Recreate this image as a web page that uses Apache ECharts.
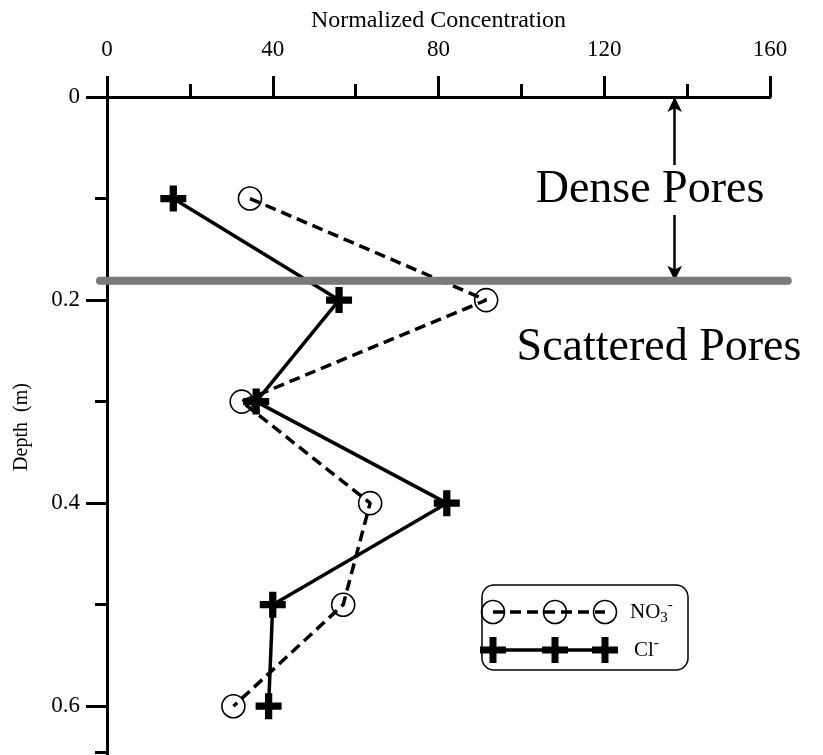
<!DOCTYPE html>
<html>
<head>
<meta charset="utf-8">
<script src="https://cdn.jsdelivr.net/npm/echarts@6/dist/echarts.min.js"></script>
<style>
  html, body { margin: 0; padding: 0; background: #fff; }
  #chart { width: 823px; height: 755px; }
</style>
</head>
<body>
<div id="chart"></div>
<script>
// Depth profile of nitrate and chloride
const depths = [0.1, 0.2, 0.3, 0.4, 0.5, 0.6];
const no3Values = [34.5, 91.5, 32.5, 63.5, 57, 30.5];
const clValues = [16, 56, 36, 82, 40, 39];
const xTickLabels = [0, 40, 80, 120, 160];
const yTickLabels = [0, 0.2, 0.4, 0.6];
const yMinorTicks = [0.1, 0.3, 0.5, 0.645];
const boundaryDepth = 0.181;   // dense / scattered pore boundary
const arrowConc = 137;         // x position of the "Dense Pores" span arrow

const FONT = "'Liberation Serif', 'DejaVu Serif', serif";
const PLUS = 'path://M9,0 H16 V9 H25 V16 H16 V25 H9 V16 H0 V9 H9 Z';

const chart = echarts.init(document.getElementById('chart'), null, { renderer: 'canvas' });

const toPairs = (vals) => depths.map((d, i) => [vals[i], d]);

chart.setOption({
  animation: false,
  backgroundColor: '#fff',
  grid: { left: 107, top: 97, width: 663, height: 660, containLabel: false, outerBoundsMode: 'none' },
  xAxis: [{
    type: 'value',
    position: 'top',
    min: xTickLabels[0],
    max: xTickLabels[xTickLabels.length - 1],
    interval: 40,
    name: 'Normalized Concentration',
    nameLocation: 'middle',
    nameGap: 63,
    nameTextStyle: { fontFamily: FONT, fontSize: 24, color: '#000' },
    axisLine: { show: true, lineStyle: { color: '#000', width: 3 } },
    axisTick: { show: true, length: 21, lineStyle: { color: '#000', width: 3 } },
    minorTick: { show: true, splitNumber: 2, length: 13, lineStyle: { color: '#000', width: 3 } },
    splitLine: { show: false },
    axisLabel: { fontFamily: FONT, fontSize: 23, color: '#000', margin: 36 }
  }],
  yAxis: [{
    type: 'value',
    inverse: true,
    min: 0,
    max: 0.65,
    name: 'Depth  (m)',
    nameLocation: 'middle',
    nameGap: 75,
    nameRotate: 90,
    nameTextStyle: { fontFamily: FONT, fontSize: 20, color: '#000' },
    axisLine: { show: true, onZero: false, lineStyle: { color: '#000', width: 3 } },
    axisTick: { show: true, length: 21, customValues: yTickLabels, lineStyle: { color: '#000', width: 3 } },
    splitLine: { show: false },
    axisLabel: { fontFamily: FONT, fontSize: 23, color: '#000', margin: 27, customValues: yTickLabels,
                 formatter: (v) => String(+v.toFixed(2)) }
  }, {
    type: 'value',
    inverse: true,
    min: 0,
    max: 0.65,
    position: 'left',
    axisLine: { show: false },
    axisTick: { show: true, length: 12, customValues: yMinorTicks, lineStyle: { color: '#000', width: 3 } },
    axisLabel: { show: false },
    splitLine: { show: false }
  }],
  series: [{
    name: 'NO3',
    type: 'line',
    data: toPairs(no3Values),
    symbol: 'circle',
    symbolSize: 23,
    itemStyle: { color: 'rgba(255,255,255,0)', borderColor: '#000', borderWidth: 1.6 },
    lineStyle: { color: '#000', width: 3.5, type: [11, 6] },
    z: 3
  }, {
    name: 'Cl',
    type: 'line',
    data: toPairs(clValues),
    symbol: PLUS,
    symbolSize: 26,
    itemStyle: { color: '#000' },
    lineStyle: { color: '#000', width: 3.5 },
    z: 4,
    markLine: {
      silent: true,
      symbol: ['arrow', 'arrow'],
      symbolSize: [11, 15],
      label: { show: false },
      lineStyle: { color: '#000', width: 2.5, type: 'solid' },
      data: [[{ coord: [arrowConc, 0] }, { coord: [arrowConc, boundaryDepth] }]]
    }
  }]
});

// Boundary band, annotations and legend
const toPx = (v) => chart.convertToPixel({ xAxisIndex: 0, yAxisIndex: 0 }, v);
const bandL = toPx([-1.7, boundaryDepth]);
const bandR = toPx([164.3, boundaryDepth]);

const legendX = [493, 555, 605];
const legendY1 = 612, legendY2 = 650;
const legendItems = [];
legendItems.push({
  type: 'rect', z: 100,
  shape: { x: 482, y: 585, width: 206, height: 85, r: 12 },
  style: { fill: '#fff', stroke: '#000', lineWidth: 1.5 }
});
legendItems.push({
  type: 'line', z: 101,
  shape: { x1: legendX[0], y1: legendY1, x2: legendX[2], y2: legendY1 },
  style: { stroke: '#000', lineWidth: 3.5, lineDash: [11, 6] }
});
legendItems.push({
  type: 'line', z: 101,
  shape: { x1: legendX[0], y1: legendY2, x2: legendX[2], y2: legendY2 },
  style: { stroke: '#000', lineWidth: 3.5 }
});
legendX.forEach((x) => {
  legendItems.push({
    type: 'circle', z: 102,
    shape: { cx: x, cy: legendY1, r: 11.5 },
    style: { fill: 'rgba(255,255,255,0)', stroke: '#000', lineWidth: 1.6 }
  });
  legendItems.push({
    type: 'rect', z: 102,
    shape: { x: x - 13, y: legendY2 - 3.5, width: 26, height: 7 },
    style: { fill: '#000' }
  });
  legendItems.push({
    type: 'rect', z: 102,
    shape: { x: x - 3.5, y: legendY2 - 13, width: 7, height: 26 },
    style: { fill: '#000' }
  });
});
legendItems.push({
  type: 'text', z: 102,
  style: {
    x: 630, y: legendY1, textVerticalAlign: 'middle',
    text: '{a|NO}{b|3}{c|-}',
    rich: {
      a: { fontFamily: FONT, fontSize: 21, lineHeight: 28, fill: '#000' },
      b: { fontFamily: FONT, fontSize: 15, lineHeight: 28, verticalAlign: 'bottom', fill: '#000' },
      c: { fontFamily: FONT, fontSize: 15, lineHeight: 28, verticalAlign: 'top', fill: '#000' }
    }
  }
});
legendItems.push({
  type: 'text', z: 102,
  style: {
    x: 634, y: legendY2, textVerticalAlign: 'middle',
    text: '{a|Cl}{c|-}',
    rich: {
      a: { fontFamily: FONT, fontSize: 21, lineHeight: 28, fill: '#000' },
      c: { fontFamily: FONT, fontSize: 15, lineHeight: 28, verticalAlign: 'top', fill: '#000' }
    }
  }
});

chart.setOption({
  graphic: [{
    type: 'line', z: 50,
    shape: { x1: bandL[0], y1: bandL[1], x2: bandR[0], y2: bandR[1] },
    style: { stroke: '#7a7a7a', lineWidth: 8, lineCap: 'round' }
  }, {
    type: 'text', z: 100,
    style: {
      x: 650, y: 190, text: 'Dense Pores', textAlign: 'center', textVerticalAlign: 'middle',
      font: '46px ' + FONT, fill: '#000', backgroundColor: '#fff', padding: [2, 0, 2, 0]
    }
  }, {
    type: 'text', z: 100,
    style: {
      x: 659, y: 348, text: 'Scattered Pores', textAlign: 'center', textVerticalAlign: 'middle',
      font: '46px ' + FONT, fill: '#000'
    }
  }, ...legendItems]
});
</script>
</body>
</html>
